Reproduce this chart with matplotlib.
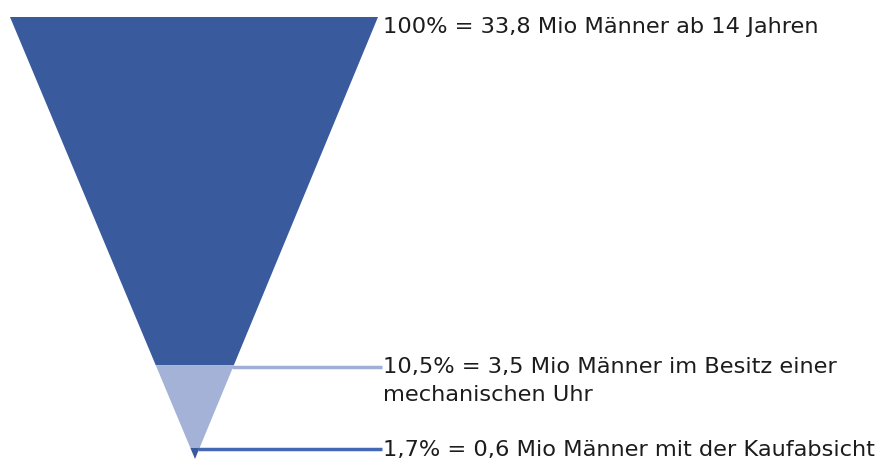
import matplotlib
matplotlib.use("Agg")
import matplotlib.pyplot as plt
from matplotlib.patches import Polygon

# funnel stages, top to bottom
labels = [
    "100% = 33,8 Mio Männer ab 14 Jahren",
    "10,5% = 3,5 Mio Männer im Besitz einer\nmechanischen Uhr",
    "1,7% = 0,6 Mio Männer mit der Kaufabsicht",
]
colors = ["#3a5a9e", "#a4b2d8", "#3a5a9e"]
line_colors = [None, "#9eaed6", "#4468b4"]
# where each band ends, as a fraction of the funnel height
band_ends = [0.788, 0.975, 1.0]

# funnel geometry in pixel units
top_y, apex_y = 18, 460
left_x, right_x, apex_x = 10, 378, 195
text_x = 383
line_gap = 28

fig = plt.figure(figsize=(8.84, 4.6), dpi=100)
ax = fig.add_axes([0, 0, 1, 1])
ax.set_xlim(0, 884)
ax.set_ylim(460, 0)
ax.axis("off")


def edges(frac):
    y = top_y + frac * (apex_y - top_y)
    xl = left_x + frac * (apex_x - left_x)
    xr = right_x + frac * (apex_x - right_x)
    return y, xl, xr


start = 0.0
for lab, col, lcol, end in zip(labels, colors, line_colors, band_ends):
    y0, l0, r0 = edges(start)
    y1, l1, r1 = edges(end)
    ax.add_patch(Polygon([(l0, y0), (r0, y0), (r1, y1), (l1, y1)],
                         closed=True, facecolor=col, edgecolor="none"))
    if lcol is None:
        ty = y0 + 9
    else:
        ax.plot([r0 - 2, text_x - 1], [y0 + 1.5, y0 + 1.5], color=lcol, lw=2.5,
                solid_capstyle="butt")
        ty = y0 + 1
    for i, part in enumerate(lab.split("\n")):
        ax.text(text_x, ty + i * line_gap, part, fontsize=16.2,
                color="#1c1c1c", va="center", ha="left")
    start = end

fig.savefig("out.png", dpi=100)
